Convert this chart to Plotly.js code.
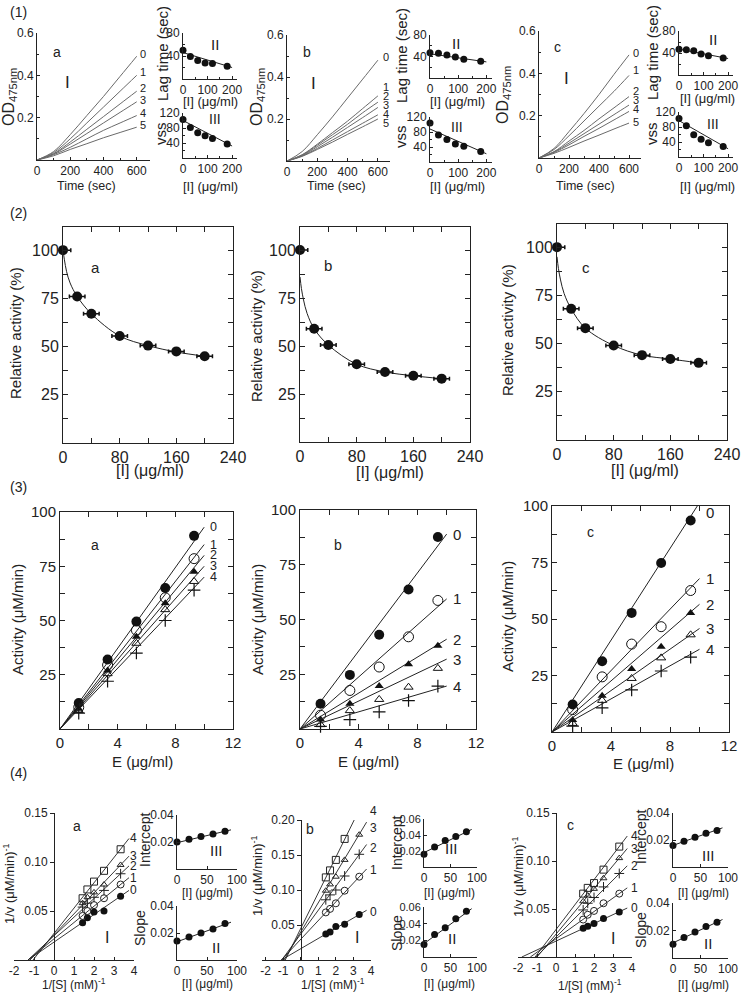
<!DOCTYPE html>
<html><head><meta charset="utf-8">
<script src="https://cdn.plot.ly/plotly-3.0.1.min.js"></script>
<style>body{margin:0;background:#fff}#chart{width:746px;height:999px}</style>
</head><body><div id="chart"></div>
<script>
// ================= DATA =================
// (1) OD475nm progress curves, time in sec
const timeSec = [0, 100, 200, 300, 400, 500, 600];
const curveLabels1 = ['0', '1', '2', '3', '4', '5'];
const odA = [
  [0, 0.040, 0.120, 0.210, 0.300, 0.395, 0.490],
  [0, 0.035, 0.100, 0.175, 0.250, 0.325, 0.400],
  [0, 0.030, 0.085, 0.145, 0.205, 0.265, 0.325],
  [0, 0.028, 0.075, 0.125, 0.175, 0.225, 0.275],
  [0, 0.025, 0.060, 0.100, 0.140, 0.175, 0.210],
  [0, 0.020, 0.050, 0.077, 0.105, 0.130, 0.155]];
const odB = [
  [0, 0.045, 0.125, 0.210, 0.300, 0.390, 0.480],
  [0, 0.030, 0.080, 0.135, 0.190, 0.250, 0.310],
  [0, 0.028, 0.075, 0.125, 0.175, 0.230, 0.280],
  [0, 0.026, 0.068, 0.113, 0.160, 0.207, 0.255],
  [0, 0.024, 0.060, 0.100, 0.140, 0.180, 0.220],
  [0, 0.022, 0.055, 0.090, 0.127, 0.163, 0.200]];
const odC = [
  [0, 0.045, 0.125, 0.210, 0.300, 0.395, 0.487],
  [0, 0.040, 0.105, 0.175, 0.245, 0.315, 0.390],
  [0, 0.030, 0.080, 0.130, 0.185, 0.237, 0.290],
  [0, 0.028, 0.070, 0.115, 0.160, 0.205, 0.250],
  [0, 0.026, 0.062, 0.102, 0.140, 0.180, 0.220],
  [0, 0.022, 0.050, 0.080, 0.108, 0.137, 0.165]];
// insets II (lag time) and III (vss) vs [I]
const concR1 = [0, 30, 60, 90, 120, 180];
const fitXR1 = [0, 200];
const lagA = [50, 39, 32, 28, 27, 22];
const lagB = [47, 46, 43, 39, 35, 31];
const lagC = [47, 46, 44, 38, 35, 31];
const lagFitA = [46, 20];
const lagFitB = [45, 30];
const lagFitC = [47, 30];
const vssA = [103, 81, 67, 59, 52, 37];
const vssB = [104, 72, 60, 48, 42, 28];
const vssC = [103, 83, 59, 47, 38, 28];
const vssFitA = [100, 32];
const vssFitB = [88, 22];
const vssFitC = [97, 22];

// (2) Relative activity vs [I]
const concR2 = [0, 20, 40, 80, 120, 160, 200];
const relA = [100, 76, 67, 55.5, 50.5, 47.5, 45];
const relB = [100, 59, 50.5, 40.5, 36.5, 34.5, 33];
const relC = [100, 68, 58, 49, 44, 42, 40];
const curveXR2 = [0, 2, 5, 10, 20, 40, 80, 120, 160, 200];
const relCurveA = [100, 95, 89, 83, 76, 67, 55.5, 50.5, 47.2, 45];
const relCurveB = [86, 80, 74, 67, 59, 50.5, 40.5, 36.5, 34.5, 33];
const relCurveC = [95, 89, 83, 76, 68, 58, 49, 44, 42, 40];

// (3) Activity vs E
const seriesLabels = ['0', '1', '2', '3', '4'];
const eA = [1.3, 3.3, 5.3, 7.3, 9.3];
const eB = [1.4, 3.4, 5.4, 7.4, 9.4];
const eC = [1.4, 3.4, 5.4, 7.4, 9.4];
const actA = [
  [12, 32, 49.5, 65, 89],
  [10, 29.5, 45.5, 60.5, 78.5],
  [9.3, 27, 42.5, 58, 72.5],
  [8.5, 25.5, 39.5, 55, 68],
  [7.3, 22, 35, 50, 64]];
const actB = [
  [11.5, 24.7, 43, 63.7, 87.7],
  [6.3, 17.6, 28.3, 42.1, 58.7],
  [4.3, 11.5, 19.6, 29.6, 38],
  [2, 8.4, 13.5, 19.1, 27.7],
  [1.2, 4.3, 7.8, 13, 19.6]];
const actC = [
  [12.2, 31.3, 52.7, 74.8, 93.6],
  [9.9, 24.4, 38.9, 46.6, 62.6],
  [5.3, 16, 27.9, 37.7, 52.7],
  [3.8, 14, 23.7, 32.8, 43],
  [2.6, 10.7, 18.6, 27, 33.1]];
const fitXR3 = [0, 10];
const actFitEndA = [93, 85, 80, 75, 70];
const actFitEndB = [89, 59.4, 41, 31.9, 19.6];
const actFitEndC = [101.5, 67.9, 56.5, 45.8, 36.6];

// (4) Lineweaver-Burk
const invS = [1.43, 1.67, 2.0, 2.5, 3.33];
const lbTickVals = [-2, -1, 0, 1, 2, 3, 4];
const lbTickText = ['-2', '-1', '0', '1', '2', '3', '4'];
const lbA = [
  [0.038, 0.043, 0.049, 0.050, 0.065],
  [0.045, 0.050, 0.056, 0.063, 0.077],
  [0.054, 0.058, 0.064, 0.071, 0.088],
  [0.058, 0.064, 0.069, 0.077, 0.097],
  [0.063, 0.072, 0.080, 0.091, 0.113]];
const lbB = [
  [0.037, 0.040, 0.048, 0.051, 0.065],
  [0.068, 0.073, 0.081, 0.099, 0.119],
  [0.086, 0.093, 0.100, 0.120, 0.151],
  [0.099, 0.108, 0.119, 0.143, 0.179],
  [0.118, 0.128, 0.143, 0.173]];
const lbC = [
  [0.030, 0.032, 0.035, 0.040, 0.047],
  [0.039, 0.044, 0.048, 0.056, 0.066],
  [0.049, 0.056, 0.062, 0.073, 0.087],
  [0.058, 0.064, 0.071, 0.082, 0.103],
  [0.066, 0.072, 0.077, 0.091, 0.115]];
const lbEndX = 3.75;
const lbStartA = [-1.3, -1.3, -1.3, -1.2, -1.05];
const lbEndA = [0.071, 0.084, 0.096, 0.106, 0.124];
const lbStartB = [-1.1, -1.1, -1.08, -0.95, -0.88];
const lbEndB = [0.071, 0.130, 0.165, 0.197, 0.236];
const lbStartC = [-1.8, -1.35, -1.05, -1.0, -1.1];
const lbEndC = [0.051, 0.072, 0.095, 0.113, 0.126];
const concR4 = [0, 20, 40, 60, 80];
const fitXR4 = [0, 90];
const intA = [0.020, 0.022, 0.024, 0.026, 0.028];
const slpA = [0.014, 0.017, 0.020, 0.023, 0.027];
const intB = [0.016, 0.025, 0.033, 0.038, 0.044];
const slpB = [0.015, 0.027, 0.035, 0.046, 0.055];
const intC = [0.016, 0.019, 0.022, 0.025, 0.027];
const slpC = [0.010, 0.015, 0.019, 0.023, 0.026];
const intFitA = [0.0195, 0.029];
const slpFitA = [0.0135, 0.028];
const intFitB = [0.018, 0.047];
const slpFitB = [0.016, 0.058];
const intFitC = [0.016, 0.029];
const slpFitC = [0.011, 0.028];

// ================= LAYOUT HELPERS =================
const W = 746, H = 999;
const FONT = '"Liberation Sans", Arial, sans-serif';
const INK = '#222';
const layout = {width: W, height: H, margin: {l: 0, r: 0, t: 0, b: 0}, showlegend: false,
  paper_bgcolor: '#fff', plot_bgcolor: 'rgba(0,0,0,0)', font: {family: FONT, color: INK, size: 12},
  annotations: []};
const data = [];
let nAx = 0;
function baseAxis(fs) {
  return {showline: true, linecolor: INK, linewidth: 1, showgrid: false, zeroline: false,
    ticks: 'outside', ticklen: 4, tickwidth: 1, tickcolor: INK,
    tickfont: {family: FONT, size: fs || 12, color: INK}, fixedrange: true, tickmode: 'array'};
}
function panel(box, xo, yo, fs) {
  nAx++;
  const s = nAx === 1 ? '' : String(nAx);
  layout['xaxis' + s] = Object.assign(baseAxis(fs), {domain: [box[0] / W, box[1] / W], anchor: 'y' + s}, xo);
  layout['yaxis' + s] = Object.assign(baseAxis(fs), {domain: [1 - box[3] / H, 1 - box[2] / H], anchor: 'x' + s}, yo);
  return {xaxis: 'x' + s, yaxis: 'y' + s};
}
function txt(t, x, y, size, extra) {
  layout.annotations.push(Object.assign({text: t, x: x / W, y: 1 - y / H, xref: 'paper', yref: 'paper',
    showarrow: false, font: {family: FONT, size: size, color: INK}, xanchor: 'center', yanchor: 'middle'}, extra || {}));
}
function dtxt(ax, t, x, y, size, extra) {
  layout.annotations.push(Object.assign({text: t, x: x, y: y, xref: ax.xaxis, yref: ax.yaxis,
    showarrow: false, font: {family: FONT, size: size, color: INK}, xanchor: 'left', yanchor: 'middle'}, extra || {}));
}
function line(ax, x, y, color, width, shape) {
  data.push(Object.assign({type: 'scatter', mode: 'lines', x: x, y: y, line: {color: color || INK, width: width || 1, shape: shape || 'linear'}, hoverinfo: 'skip'}, ax));
}
function pts(ax, x, y, marker, extra) {
  data.push(Object.assign({type: 'scatter', mode: 'markers', x: x, y: y, marker: marker, cliponaxis: false, hoverinfo: 'skip'}, ax, extra || {}));
}
const VERT = {textangle: -90};
const minorIn = (d) => ({dtick: d, ticks: 'inside', ticklen: 2, tickcolor: INK});

// ================= ROW (1) =================
txt('(1)', 18, 12, 14);
const row1 = [
  {main: [37, 150, 33, 160], lagBox: [183, 237, 33, 79], vssBox: [183, 237, 113, 158], od: odA,
   lag: lagA, lagFit: lagFitA, vss: vssA, vssFit: vssFitA, letter: 'a',
   labX: 143, labY: [54, 72, 88, 100, 113, 125],
   t: {od: [9, 97], time: [86, 186], letter: [57, 52], I: [67, 82], lagT: [162, 54], lagX: [210, 101], II: [215, 44],
       vssT: [161, 134], vssX: [210, 186], III: [215, 119]}},
  {main: [287, 390, 35, 161], lagBox: [430, 492, 35, 78], vssBox: [430, 492, 117, 162], od: odB,
   lag: lagB, lagFit: lagFitB, vss: vssB, vssFit: vssFitB, letter: 'b',
   labX: 386, labY: [57, 87, 96, 105, 114, 123],
   t: {od: [257, 97], time: [336, 186], letter: [307, 52], I: [313, 84], lagT: [402, 56], lagX: [457, 101], II: [456, 43],
       vssT: [400, 137], vssX: [457, 186], III: [457, 127]}},
  {main: [539, 641, 31, 158], lagBox: [679, 733, 31, 75], vssBox: [679, 733, 112, 157], od: odC,
   lag: lagC, lagFit: lagFitC, vss: vssC, vssFit: vssFitC, letter: 'c',
   labX: 636, labY: [53, 70, 91, 100, 109, 122],
   t: {od: [504, 95], time: [585, 186], letter: [557, 47], I: [566, 78], lagT: [652, 53], lagX: [707, 98], II: [713, 40],
       vssT: [652, 134], vssX: [707, 186], III: [713, 124]}}
];
row1.forEach(p => {
  const m = panel(p.main,
    {range: [0, 680], tickvals: [0, 200, 400, 600], ticks: 'inside', ticklen: 3, minor: minorIn(100)},
    {range: [0, 0.6], tickvals: [0.2, 0.4, 0.6], ticks: 'inside', ticklen: 3, minor: minorIn(0.1)}, 12);
  p.od.forEach((c, i) => {
    line(m, timeSec, c, '#6a6a6a', 1, 'spline');
    txt(curveLabels1[i], p.labX, p.labY[i], 11);
  });
  const l = panel(p.lagBox,
    {range: [0, 220], tickvals: [0, 100, 200], ticks: 'inside', ticklen: 3, minor: minorIn(50)},
    {range: [0, 80], tickvals: [40, 80], ticks: 'inside', ticklen: 3, minor: minorIn(20)}, 12);
  line(l, fitXR1, p.lagFit, INK, 1);
  pts(l, concR1, p.lag, {symbol: 'circle', size: 7, color: '#111'});
  const v = panel(p.vssBox,
    {range: [0, 220], tickvals: [0, 100, 200], ticks: 'inside', ticklen: 3, minor: minorIn(50)},
    {range: [0, 120], tickvals: [40, 80, 120], ticks: 'inside', ticklen: 3, minor: minorIn(20)}, 12);
  line(v, fitXR1, p.vssFit, INK, 1);
  pts(v, concR1, p.vss, {symbol: 'circle', size: 7, color: '#111'});
  const t = p.t;
  txt('OD<sub>475nm</sub>', t.od[0], t.od[1], 16, VERT);
  txt('Time (sec)', t.time[0], t.time[1], 12.5);
  txt(p.letter, t.letter[0], t.letter[1], 14);
  txt('I', t.I[0], t.I[1], 17);
  txt('Lag time (sec)', t.lagT[0], t.lagT[1], 15, VERT);
  txt('[I] (μg/ml)', t.lagX[0], t.lagX[1], 13);
  txt('II', t.II[0], t.II[1], 15);
  txt('vss', t.vssT[0], t.vssT[1], 15, VERT);
  txt('[I] (μg/ml)', t.vssX[0], t.vssX[1], 13);
  txt('III', t.III[0], t.III[1], 14);
});

// ================= ROW (2) =================
txt('(2)', 18, 213, 14);
const row2 = [
  {box: [63, 233, 227, 443], y: relA, curve: relCurveA, letter: 'a', lt: [95, 268], yt: [16, 333], xt: [150, 471]},
  {box: [300, 470, 227, 442], y: relB, curve: relCurveB, letter: 'b', lt: [328, 265], yt: [257, 336], xt: [390, 472]},
  {box: [557, 727, 224, 440], y: relC, curve: relCurveC, letter: 'c', lt: [586, 268], yt: [507, 330], xt: [645, 470]}
];
row2.forEach(p => {
  const a = panel(p.box,
    {range: [0, 240], tickvals: [0, 80, 160, 240], ticks: 'inside', ticklen: 5, mirror: 'ticks',
     minor: {dtick: 40, ticks: 'inside', ticklen: 5, tickcolor: INK}},
    {range: [0, 112], tickvals: [25, 50, 75, 100], ticks: 'inside', ticklen: 5, mirror: 'ticks',
     minor: {dtick: 12.5, ticks: 'inside', ticklen: 5, tickcolor: INK}}, 16);
  line(a, curveXR2, p.curve, INK, 1, 'spline');
  pts(a, concR2, p.y, {symbol: 'circle', size: 10, color: '#111'},
    {error_x: {type: 'constant', value: 11, thickness: 1.5, width: 2, color: '#111'},
     error_y: {type: 'constant', value: 1, thickness: 1, width: 0, color: '#111'}});
  txt(p.letter, p.lt[0], p.lt[1], 15);
  txt('Relative activity (%)', p.yt[0], p.yt[1], 15, VERT);
  txt('[I] (μg/ml)', p.xt[0], p.xt[1], 16);
});

// ================= ROW (3) =================
txt('(3)', 18, 487, 14);
const markers3 = [
  {symbol: 'circle', size: 10, color: '#111'},
  {symbol: 'circle-open', size: 10, color: '#111', line: {width: 1}},
  {symbol: 'triangle-up', size: 8, color: '#111'},
  {symbol: 'triangle-up-open', size: 8, color: '#111', line: {width: 1}},
  {symbol: 'cross-thin-open', size: 9, color: '#111', line: {width: 1.2}}
];
const row3 = [
  {box: [60, 233, 512, 729], e: eA, act: actA, end: actFitEndA, labFont: 12.5, letter: 'a', lt: [95, 545], yt: [17, 620], xt: [142, 761]},
  {box: [300, 476, 510, 729], e: eB, act: actB, end: actFitEndB, labFont: 15, letter: 'b', lt: [338, 545], yt: [257, 620], xt: [368, 761]},
  {box: [552, 729, 506, 732], e: eC, act: actC, end: actFitEndC, labFont: 15, letter: 'c', lt: [590, 532], yt: [507, 617], xt: [643, 763]}
];
row3.forEach(p => {
  const a = panel(p.box,
    {range: [0, 12], tickvals: [0, 4, 8, 12], ticks: 'inside', ticklen: 5, mirror: 'ticks',
     minor: {dtick: 2, ticks: 'inside', ticklen: 5, tickcolor: INK}},
    {range: [0, 100], tickvals: [25, 50, 75, 100], ticks: 'inside', ticklen: 5, mirror: 'ticks',
     minor: {dtick: 12.5, ticks: 'inside', ticklen: 5, tickcolor: INK}}, 15);
  p.act.forEach((s, i) => {
    line(a, fitXR3, [0, p.end[i]], INK, 1);
    pts(a, p.e, s, markers3[i]);
    dtxt(a, seriesLabels[i], fitXR3[1] + 0.3, Math.min(p.end[i], 97), p.labFont);
  });
  txt(p.letter, p.lt[0], p.lt[1], 14);
  txt('Activity (μM/min)', p.yt[0], p.yt[1], 15, VERT);
  txt('E (μg/ml)', p.xt[0], p.xt[1], 15);
});

// ================= ROW (4) =================
txt('(4)', 18, 773, 14);
const markers4 = [
  {symbol: 'circle', size: 7, color: '#111'},
  {symbol: 'circle-open', size: 7, color: '#222', line: {width: 1}},
  {symbol: 'cross-thin-open', size: 7, color: '#222', line: {width: 1}},
  {symbol: 'triangle-up-open', size: 6, color: '#222', line: {width: 1}},
  {symbol: 'square-open', size: 7, color: '#222', line: {width: 1}}
];
const row4 = [
  {main: [14, 134, 813, 960], xr: [-2, 4], y0px: 54, yr: [0, 0.15], yt: [0.05, 0.10, 0.15],
   lb: lbA, start: lbStartA, end: lbEndA, labY: lbEndA, labX: 3.7, insetFont: 12,
   intBox: [177, 237, 815, 869], slpBox: [177, 237, 906, 960], ir: [0, 0.04], itv: [0.02, 0.04],
   int: intA, slp: slpA, intFit: intFitA, slpFit: slpFitA, letter: 'a',
   t: {letter: [77, 826], I: [107, 937], yt: [9, 884], xt: [74, 984], intT: [145, 840], slpT: [140, 928],
       intX: [207, 893], slpX: [207, 984], III: [216, 850], II: [216, 947]}},
  {main: [262, 371, 820, 960], xr: [-2.2, 4], y0px: 301, yr: [0, 0.2], yt: [0.05, 0.10, 0.15, 0.20],
   lb: lbB, start: lbStartB, end: lbEndB, labY: [0.068, 0.129, 0.160, 0.188, 0.1995], labX: 3.85, insetFont: 11,
   intBox: [424, 477, 819, 867], slpBox: [424, 477, 907, 957], ir: [0, 0.06], itv: [0.02, 0.04, 0.06],
   int: intB, slp: slpB, intFit: intFitB, slpFit: slpFitB, letter: 'b',
   t: {letter: [310, 829], I: [357, 937], yt: [257, 876], xt: [333, 984], intT: [397, 843], slpT: [397, 933],
       intX: [450, 893], slpX: [450, 984], III: [452, 848], II: [452, 938]}},
  {main: [518, 632, 813, 957], xr: [-2, 4], y0px: 556, yr: [0, 0.15], yt: [0.05, 0.10, 0.15],
   lb: lbC, start: lbStartC, end: lbEndC, labY: lbEndC, labX: 3.85, insetFont: 12,
   intBox: [673, 728, 813, 867], slpBox: [673, 728, 903, 958], ir: [0, 0.04], itv: [0.02, 0.04],
   int: intC, slp: slpC, intFit: intFitC, slpFit: slpFitC, letter: 'c',
   t: {letter: [570, 825], I: [613, 938], yt: [518, 877], xt: [590, 985], intT: [641, 837], slpT: [641, 930],
       intX: [703, 893], slpX: [703, 985], III: [708, 855], II: [708, 943]}}
];
row4.forEach(p => {
  const a = panel(p.main,
    {range: p.xr, tickvals: lbTickVals, ticktext: lbTickText, ticks: 'inside', ticklen: 3},
    {range: p.yr, tickvals: p.yt, tickformat: '.2f', anchor: 'free', position: p.y0px / W}, 12);
  p.lb.forEach((s, i) => {
    line(a, [p.start[i], lbEndX], [0, p.end[i]], INK, 0.9);
  });
  p.lb.forEach((s, i) => {
    pts(a, invS.slice(0, s.length), s, markers4[i]);
    const top = p.labY[i] >= p.yr[1] * 0.99;
    dtxt(a, seriesLabels[i], p.labX, p.labY[i], 12, top ? {yanchor: 'bottom'} : {});
  });
  const iA = panel(p.intBox, {range: [0, 100], tickvals: [0, 50, 100], ticks: 'inside', ticklen: 3, tickfont: {family: FONT, size: 12, color: INK}},
    {range: p.ir, tickvals: p.itv, tickformat: '.2f', ticks: 'inside', ticklen: 3}, p.insetFont);
  line(iA, fitXR4, p.intFit, INK, 1);
  pts(iA, concR4, p.int, {symbol: 'circle', size: 7, color: '#111'});
  const sA = panel(p.slpBox, {range: [0, 100], tickvals: [0, 50, 100], ticks: 'inside', ticklen: 3, tickfont: {family: FONT, size: 12, color: INK}},
    {range: p.ir, tickvals: p.itv, tickformat: '.2f', ticks: 'inside', ticklen: 3}, p.insetFont);
  line(sA, fitXR4, p.slpFit, INK, 1);
  pts(sA, concR4, p.slp, {symbol: 'circle', size: 7, color: '#111'});
  const t = p.t;
  txt(p.letter, t.letter[0], t.letter[1], 14);
  txt('I', t.I[0], t.I[1], 16);
  txt('1/v (μM/min)<sup>-1</sup>', t.yt[0], t.yt[1], 13, VERT);
  txt('1/[S] (mM)<sup>-1</sup>', t.xt[0], t.xt[1], 12);
  txt('Intercept', t.intT[0], t.intT[1], 14, VERT);
  txt('Slope', t.slpT[0], t.slpT[1], 14, VERT);
  txt('[I] (μg/ml)', t.intX[0], t.intX[1], 12);
  txt('[I] (μg/ml)', t.slpX[0], t.slpX[1], 12);
  txt('III', t.III[0], t.III[1], 15);
  txt('II', t.II[0], t.II[1], 15);
});

Plotly.newPlot('chart', data, layout, {staticPlot: true, displayModeBar: false});
</script>
</body></html>
